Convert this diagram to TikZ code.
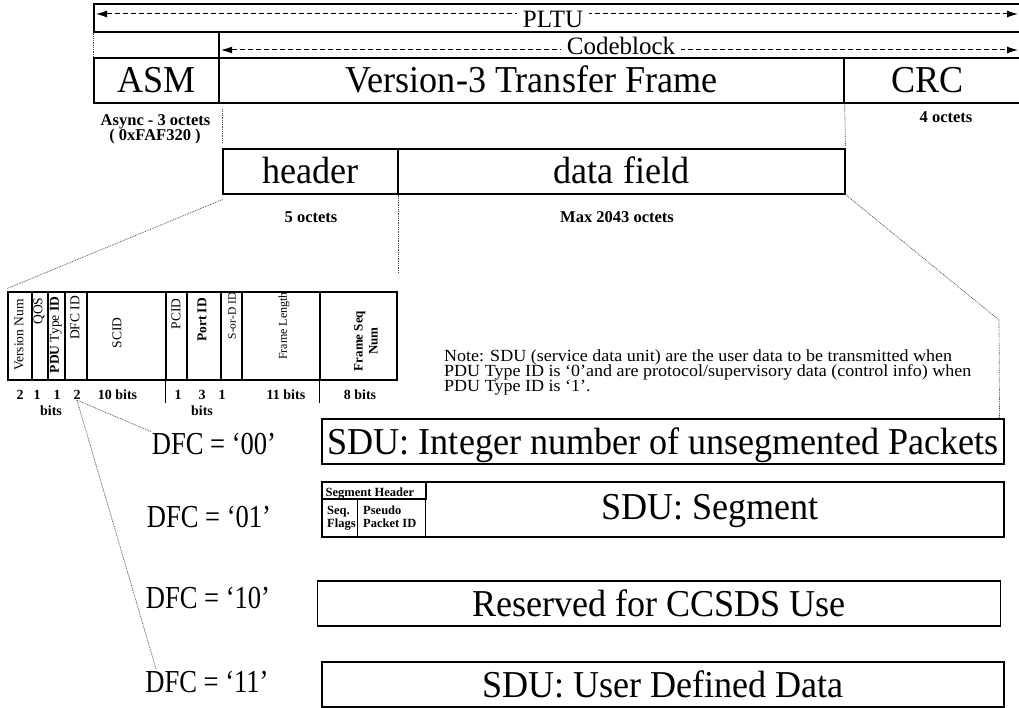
\documentclass[tikz,border=0pt]{standalone}
\usepackage{fontspec}
\setmainfont{Liberation Serif}
\usepackage{graphicx}
\usetikzlibrary{arrows.meta,calc}
\newcommand{\nrw}[1]{\scalebox{0.95}[1]{#1}}
\newcommand{\nrd}[1]{\scalebox{0.83}[1]{#1}}
\tikzset{
  ln/.style={line width=1.1pt, draw=black},
  dt/.style={line width=0.7pt, draw=black!70, dash pattern=on 0.9pt off 0.9pt},
  plainbox/.style={draw=black, line width=1.1pt, inner sep=0pt},
  bigf/.style={font=\fontsize{38}{42}\selectfont},
  fbox/.style={plainbox, bigf, text height=25pt, text depth=0pt},
  cell/.style={plainbox, minimum height=88pt},
  rot/.style={rotate=90, inner sep=0pt, font=\fontsize{13.5}{14}\selectfont},
  bitl/.style={anchor=base, inner sep=1pt, font=\bfseries\fontsize{14}{14}\selectfont},
  smb/.style={anchor=base, inner sep=0pt, font=\bfseries\fontsize{16.5}{18}\selectfont},
  dfcl/.style={anchor=base, inner sep=1pt, font=\fontsize{32}{34}\selectfont},
  dimarr/.style={line width=1pt, dash pattern=on 5pt off 3pt, {Latex[length=11pt,width=7pt]}-{Latex[length=11pt,width=7pt]}},
  midl/.style={anchor=base, fill=white, inner xsep=6pt, inner ysep=1.5pt, font=\fontsize{25}{27}\selectfont},
  notel/.style={anchor=base west, inner sep=0pt, font=\fontsize{17}{17}\selectfont},
  segl/.style={inner sep=0pt, font=\bfseries\fontsize{12.5}{11}\selectfont},
}
\begin{document}
\begin{tikzpicture}[x=1pt,y=-1pt]
\useasboundingbox (0,0) rectangle (1019,708);
% ---- PLTU / Codeblock rows
\node[plainbox, minimum width=927pt, minimum height=28pt] (pltu) at (557.5,18) {};
\node[plainbox, minimum width=802pt, minimum height=26pt] (cb) at (620,45) {};
\node[fbox, minimum width=125pt, minimum height=45pt] (asm) at (156.5,80.5) {\nrw{ASM}};
\node[fbox, minimum width=625pt, minimum height=45pt] (v3) at (531.5,80.5) {\nrw{Version-3 Transfer Frame}};
\node[fbox, minimum width=177pt, minimum height=45pt] (crc) at (932.5,80.5) {\nrw{CRC}\hspace*{10pt}};
\draw[dt] (pltu.south west) -- (asm.north west);
\coordinate (pl) at (96,14);
\coordinate (pr) at (1018,14);
\draw[dimarr] (pl) -- (pr);
\node[midl] (pltut) at (553,28) {PLTU};
\coordinate (cl) at (221,50);
\coordinate (cr) at (1018,50);
\draw[dimarr] (cl) -- (cr);
\node[midl] (cbt) at (621,55) {Codeblock};
% ---- octet labels
\node[smb] (async) at (155.5,126) {Async - 3 octets};
\node[smb] (hexv) at (155,141) {( 0xFAF320 )};
\node[smb] (oct4) at (946,123) {4 octets};
% ---- header / data field
\node[fbox, minimum width=175pt, minimum height=45pt] (hdr) at (310.5,171.5) {\nrw{header}};
\node[fbox, minimum width=447pt, minimum height=45pt] (df) at (621.5,171.5) {\nrw{data field}};
\node[smb] (oct5) at (311,223) {5 octets};
\node[smb] (oct2043) at (617,223) {Max 2043 octets};
\draw[dt] ($(hdr.north west)+(0,-39)$) -- ($(hdr.north west)+(0,-6)$);
\draw[dt] (v3.south east) -- ($(df.north east)+(0,-2)$);
% ---- header table
\foreach \a/\b [count=\i] in {8/32,32/48,48/65,65/87,87/166,166/187,187/221,221/242,242/320,320/397}
  \node[cell, minimum width={(\b-\a)*1pt}] (c\i) at ({(\a+\b)/2},336) {};
\draw[ln] (c6.south west) -- ++(0,22);
\draw[ln] (c10.south west) -- ++(0,22);
\node[rot] (tv) at (19,335) {Version Num};
\node[rot] (tq) at (39,311) {QOS};
\node[rot] (tp) at (56,335) {\textbf{PDU} Type \textbf{ID}};
\node[rot] (td) at (75,318) {DFC ID};
\node[rot] (ts) at (117,333) {SCID};
\node[rot] (tpc) at (176,314) {PCID};
\node[rot] (tpo) at (202,320) {\textbf{Port ID}};
\node[rot, font=\fontsize{11.5}{13}\selectfont] (tsd) at (232,316) {S-or-D ID};
\node[rot, font=\fontsize{12}{13}\selectfont] (tfl) at (284,326) {Frame Length};
\node[rot, align=center, font=\bfseries\fontsize{13}{15}\selectfont] (tfs) at (366,341) {Frame Seq\\Num};
\node[bitl] (b1) at (20,399) {2};
\node[bitl] (b2) at (37,399) {1};
\node[bitl] (b3) at (57,399) {1};
\node[bitl] (b4) at (77,399) {2};
\node[bitl] (b5) at (117.5,399) {10 bits};
\node[bitl] (b6) at (178,399) {1};
\node[bitl] (b7) at (202,399) {3};
\node[bitl] (b8) at (222,399) {1};
\node[bitl] (b9) at (286,399) {11 bits};
\node[bitl] (b10) at (360,399) {8 bits};
\node[bitl] (bits1) at (51,415) {bits};
\node[bitl] (bits2) at (202,415) {bits};
\draw[dt] ($(hdr.south west)+(0,5)$) -- ($(c1.north west)+(0,-3)$);
\draw[dt] (hdr.south east) -- ++(0,79);
% ---- note
\node[notel] (note1) at (444,361) {\scalebox{1.06}[1]{Note: SDU (service data unit) are the user data to be transmitted when}};
\node[notel] (note2) at (444,376) {\scalebox{1.06}[1]{PDU Type ID is ‘0’and are protocol/supervisory data (control info) when}};
\node[notel] (note3) at (444,391) {\scalebox{1.06}[1]{PDU Type ID is ‘1’.}};
% ---- SDU boxes
\node[fbox, minimum width=682pt, minimum height=45pt] (sdu1) at (663,441.5) {\nrw{SDU: Integer number of unsegmented Packets}};
\node[plainbox, minimum width=682pt, minimum height=55pt] (sdu2) at (663,509.5) {};
\node[plainbox, minimum width=104pt, minimum height=17pt] (sh) at (374,490.5) {};
\node[plainbox, minimum width=35.5pt, minimum height=38pt] (sf) at (339.75,518) {};
\node[plainbox, minimum width=68pt, minimum height=38pt] (sp) at (391.5,518) {};
\node[segl, anchor=base] (sht) at (370,496) {Segment Header};
\node[segl, anchor=base west] (sft1) at (327,514) {Seq.};
\node[segl, anchor=base west] (sft2) at (327,527) {Flags};
\node[segl, anchor=base west] (spt1) at (363,514) {Pseudo};
\node[segl, anchor=base west] (spt2) at (363,527) {Packet ID};
\node[bigf, anchor=base, inner sep=0pt] (segt) at (710,519) {\nrw{SDU: Segment}};
\node[fbox, minimum width=683pt, minimum height=45pt] (sdu3) at (659,603.5) {\nrw{Reserved for CCSDS Use}};
\node[fbox, minimum width=682pt, minimum height=45pt] (sdu4) at (663,684.5) {\nrw{SDU: User Defined Data}};
\coordinate (bend) at (999,320);
\draw[dt] (df.south east) -- (bend) -- ($(sdu1.north east)+(-5,0)$);
% ---- DFC labels
\node[dfcl] (d00) at (214,454) {\nrd{DFC = ‘00’}};
\node[dfcl] (d01) at (209,527) {\nrd{DFC = ‘01’}};
\node[dfcl] (d10) at (208,608) {\nrd{DFC = ‘10’}};
\node[dfcl] (d11) at (207,692) {\nrd{DFC = ‘11’}};
\draw[dt] (b4.south) -- (d00.north west);
\draw[dt] (b4.south) -- ($(d11.north west)+(12,0)$);
\end{tikzpicture}
\end{document}
